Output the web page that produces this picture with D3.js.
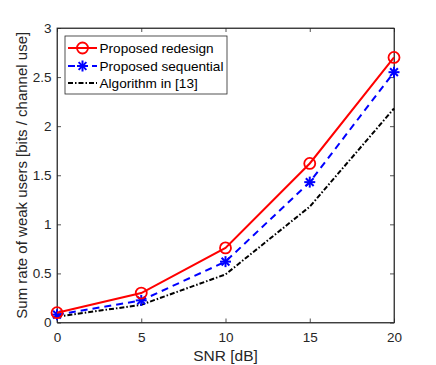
<!DOCTYPE html>
<html><head><meta charset="utf-8">
<script src="https://cdn.jsdelivr.net/npm/d3@7"></script>
<style>body{margin:0;background:#fff}svg{display:block;font-family:"Liberation Sans",Arial,sans-serif}</style>
</head><body><svg id="c" width="436" height="365"></svg>
<script>
const snr = [0, 5, 10, 15, 20];
const proposedRedesign = [0.10, 0.30, 0.76, 1.62, 2.70];
const proposedSequential = [0.08, 0.225, 0.62, 1.43, 2.55];
const algorithm13 = [0.06, 0.18, 0.49, 1.18, 2.18];
const xTicks = [0, 5, 10, 15, 20];
const yTicks = [0, 0.5, 1, 1.5, 2, 2.5, 3];
const seriesNames = ["Proposed redesign", "Proposed sequential", "Algorithm in [13]"];

const svg = d3.select("#c");
const L = 57, R = 394, T = 28, B = 322.5;
const x = d3.scaleLinear().domain([0, 20]).range([L, R]);
const y = d3.scaleLinear().domain([0, 3]).range([B, T]);
const axisCol = "#262626";

const g = svg.append("g");
g.append("rect").attr("x", L).attr("y", T).attr("width", R - L).attr("height", B - T)
  .attr("fill", "white").attr("stroke", axisCol).attr("stroke-width", 0.8);

const xb = g.append("g").attr("transform", `translate(0,${B})`)
  .call(d3.axisBottom(x).tickValues(xTicks).tickSizeInner(-4).tickSizeOuter(0).tickPadding(10).tickFormat(d3.format("d")));
const xt = g.append("g").attr("transform", `translate(0,${T})`)
  .call(d3.axisTop(x).tickValues(xTicks).tickSizeInner(-4).tickSizeOuter(0).tickFormat(""));
const yl = g.append("g").attr("transform", `translate(${L},0)`)
  .call(d3.axisLeft(y).tickValues(yTicks).tickSizeInner(-4).tickSizeOuter(0).tickPadding(5.5).tickFormat(d => d));
const yr = g.append("g").attr("transform", `translate(${R},0)`)
  .call(d3.axisRight(y).tickValues(yTicks).tickSizeInner(-4).tickSizeOuter(0).tickFormat(""));
[xb, xt, yl, yr].forEach(a => {
  a.select(".domain").attr("stroke", axisCol).attr("stroke-width", 0.8);
  a.selectAll(".tick line").attr("stroke", axisCol).attr("stroke-width", 0.8);
  a.selectAll("text").attr("fill", axisCol).style("font-size", "13.5px").style("font-family", '"Liberation Sans",Arial,sans-serif');
});

svg.append("text").attr("x", (L + R) / 2).attr("y", 361).attr("text-anchor", "middle")
  .attr("fill", axisCol).style("font-size", "15.5px").text("SNR [dB]");
svg.append("text").attr("transform", `translate(27,${(T + B) / 2}) rotate(-90)`).attr("text-anchor", "middle")
  .attr("fill", axisCol).style("font-size", "15px").text("Sum rate of weak users [bits / channel use]");

const series = [
  { name: seriesNames[0], vals: proposedRedesign, color: "#ff0000", dash: null, marker: "circle" },
  { name: seriesNames[1], vals: proposedSequential, color: "#0000ff", dash: "7,5", marker: "star" },
  { name: seriesNames[2], vals: algorithm13, color: "#000000", dash: "5,2,1.5,2", marker: null }
];
const line = d3.line().x((d, i) => x(snr[i])).y(d => y(d));

function drawMarker(sel, type, cx, cy, color) {
  if (type === "circle") {
    sel.append("circle").attr("cx", cx).attr("cy", cy).attr("r", 5.5)
      .attr("fill", "none").attr("stroke", color).attr("stroke-width", 1.8);
  } else if (type === "star") {
    const r = 5.5;
    for (let k = 0; k < 4; k++) {
      const a = k * Math.PI / 4;
      sel.append("line").attr("x1", cx - r * Math.cos(a)).attr("y1", cy - r * Math.sin(a))
        .attr("x2", cx + r * Math.cos(a)).attr("y2", cy + r * Math.sin(a))
        .attr("stroke", color).attr("stroke-width", 2);
    }
  }
}

const plot = svg.append("g");
series.slice().reverse().forEach(s => {
  plot.append("path").datum(s.vals).attr("d", line).attr("fill", "none")
    .attr("stroke", s.color).attr("stroke-width", 2).attr("stroke-dasharray", s.dash);
  if (s.marker) s.vals.forEach((v, i) => drawMarker(plot, s.marker, x(snr[i]), y(v), s.color));
});

const lg = svg.append("g");
lg.append("rect").attr("x", 65).attr("y", 36).attr("width", 162).attr("height", 58)
  .attr("fill", "white").attr("stroke", axisCol).attr("stroke-width", 0.8);
const rowY = [48, 66, 83];
series.forEach((s, i) => {
  lg.append("line").attr("x1", 68).attr("x2", 97).attr("y1", rowY[i]).attr("y2", rowY[i])
    .attr("stroke", s.color).attr("stroke-width", 2).attr("stroke-dasharray", s.dash);
  if (s.marker) drawMarker(lg, s.marker, 82.5, rowY[i], s.color);
  lg.append("text").attr("x", 99.5).attr("y", rowY[i]).attr("dy", "0.35em")
    .attr("fill", "#000").style("font-size", "13.6px").text(s.name);
});
</script></body></html>
